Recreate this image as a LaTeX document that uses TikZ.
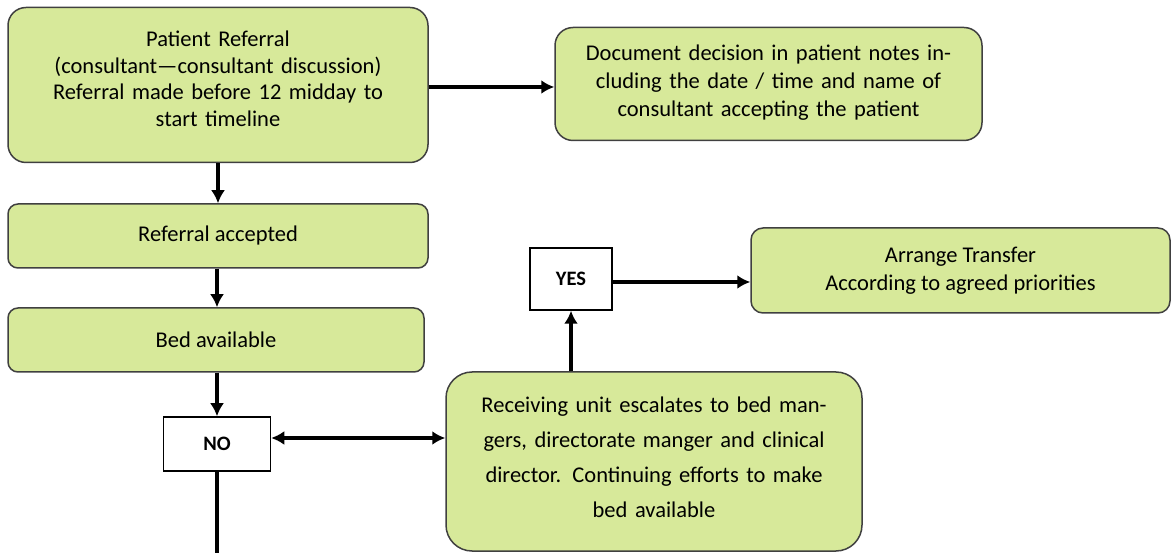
\documentclass[tikz,border=0pt]{standalone}
\usepackage{fontspec}
\setmainfont{Carlito}
\usepackage{tikz}
\usetikzlibrary{arrows.meta}
\usetikzlibrary{calc}
\definecolor{stepgreen}{RGB}{215,233,154}
\definecolor{stepedge}{RGB}{64,64,64}
\newcommand{\liftby}[1]{\par\vspace*{#1}\nointerlineskip\hbox{}}
\tikzset{
	greenbox/.style={draw=stepedge, line width=1.5pt, fill=stepgreen, rounded corners=18pt,
		align=center, font=\fontsize{22.5}{27.7}\selectfont, inner sep=4pt},
	answer/.style={draw=black, line width=1.5pt, fill=white, font=\fontsize{20.5}{24}\selectfont\bfseries},
	flow/.style={line width=3.5pt, -{Latex[length=13pt,width=14pt]}},
	twoway/.style={{Latex[length=13pt,width=14pt]}-{Latex[length=13pt,width=14pt]}}
}

\begin{document}
\begin{tikzpicture}[x=1pt,y=-1pt]
	\useasboundingbox (0,0) rectangle (1171,553);
	\node[greenbox, minimum width=420pt, minimum height=155pt, text width=405pt,
		font=\fontsize{22.5}{26.5}\selectfont] (referral) at (218,85)
		{Patient Referral\\(consultant---consultant discussion)\\Referral made before 12 midday to\\start timeline\liftby{12pt}};
	\node[greenbox, minimum width=427pt, minimum height=113pt, text width=415pt] (document) at (768.5,84)
		{Document decision in patient notes in-\\cluding the date / time and name of\\consultant accepting the patient\liftby{3pt}};
	\node[greenbox, minimum width=420pt, minimum height=64pt, rounded corners=10pt] (accepted) at (218,236)
		{Referral accepted};
	\node[greenbox, minimum width=416pt, minimum height=64pt, rounded corners=10pt] (bed) at (216,340)
		{Bed available};
	\node[answer, minimum width=107pt, minimum height=54pt] (no) at (217,444) {NO};
	\node[answer, minimum width=82pt, minimum height=62pt] (yes) at (571,279) {YES};
	\node[greenbox, minimum width=419pt, minimum height=85pt, rounded corners=12pt] (transfer) at (960.5,270.5)
		{Arrange Transfer\\According to agreed priorities};
	\node[greenbox, minimum width=416pt, minimum height=179pt, rounded corners=26pt, text width=405pt,
		font=\fontsize{22.5}{35}\selectfont] (escalate) at (654,461.5)
		{Receiving unit escalates to bed man-\\gers, directorate manger and clinical\\director. Continuing efforts to make\\bed available\liftby{8pt}};
	\coordinate (down) at (217,553);

	\path[flow]
	(referral.east |- 0,87) edge (document.west |- 0,87)
	(referral.south -| accepted) edge (accepted)
	(accepted.south -| no) edge (bed.north -| no)
	(bed.south -| no) edge (no)
	(no.east |- 0,438) edge[twoway] (escalate.west |- 0,438)
	(escalate.north -| yes) edge (yes)
	(yes.east |- 0,282) edge (transfer.west |- 0,282);
	\draw[line width=3.5pt] (no) -- (down);
\end{tikzpicture}
\end{document}
